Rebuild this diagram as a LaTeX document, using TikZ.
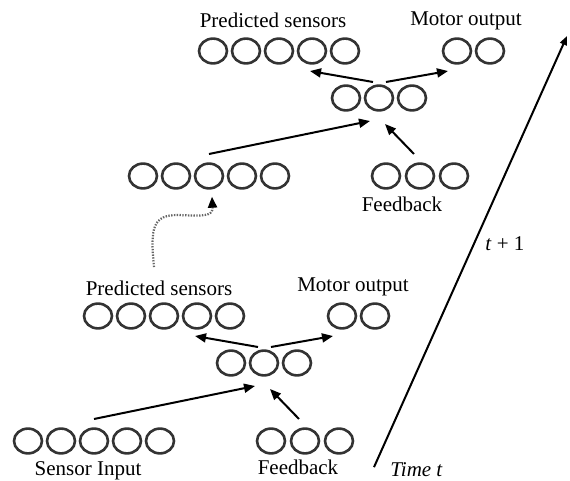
\documentclass[tikz,border=0pt]{standalone}
\usepackage{fontspec}
\setmainfont{Liberation Serif}
\usetikzlibrary{arrows.meta,shapes.geometric}

\begin{document}
\begin{tikzpicture}[x=0.5pt,y=-0.5pt,
		unit/.style={ellipse,draw=black!80,line width=1.3pt,minimum width=14pt,minimum height=12.4pt,inner sep=0pt},
		lab/.style={anchor=base,inner sep=0pt,font=\fontsize{10.5}{12.6}\selectfont},
		link/.style={-{Triangle[length=5.5pt,width=4.5pt]},line width=1pt},
		recall/.style={black!60,line width=1.1pt,dash pattern=on 0.7pt off 0.7pt,-{Triangle[length=5.5pt,width=4.5pt,black]}},
		clock/.style={-{Triangle[length=4.5pt,width=3.5pt]},line width=1pt}]
	\useasboundingbox (0,0) rectangle (570,481);
	% the same network twice: at time t (a) and at t+1 (b)
	\foreach \g/\dx/\dy in {a/0/0,b/115/-265}{
		\begin{scope}[shift={(\dx,\dy)}]
			\foreach \i in {1,...,5}{
				\node[unit] (\g-s\i) at ({28+33*(\i-1)},441) {};
				\node[unit] (\g-p\i) at ({98+33*(\i-1)},316) {};
			}
			\foreach \i in {1,2,3}{
				\node[unit] (\g-f\i) at ({271+34*(\i-1)},441) {};
				\node[unit] (\g-h\i) at ({231+33*(\i-1)},363) {};
			}
			\foreach \i in {1,2}
				\node[unit] (\g-m\i) at ({342+33*(\i-1)},316) {};
		\end{scope}
	}
	% inputs into the middle layer, and out again
	\foreach \g in {a,b}{
		\draw[link] ([shift={(0,-22)}]\g-s3.center) -- ([shift={(-9,23)}]\g-h2.center);
		\draw[link] ([shift={(-6,-22)}]\g-f2.center) -- ([shift={(6,26)}]\g-h2.center);
		\draw[link] ([shift={(-6,-16)}]\g-h2.center) -- ([shift={(-2,20)}]\g-p4.center);
		\draw[link] ([shift={(7,-16)}]\g-h2.center) -- ([shift={(-9,20)}]\g-m1.center);
	}
	% labels
	\node[lab] (a-lsin) at (88,476) {Sensor Input};
	\node[lab] (a-lfb) at (298,475) {Feedback};
	\node[lab] (a-lps) at (159,296) {Predicted sensors};
	\node[lab] (a-lmo) at (353,292) {Motor output};
	\node[lab] (b-lfb) at (402,212) {Feedback};
	\node[lab] (b-lps) at (273,28) {Predicted sensors};
	\node[lab] (b-lmo) at (466,26) {Motor output};
	% the prediction is fed back in as the next sensor input
	\draw[recall] ([shift={(-5,-14)}]a-lps.north) .. controls +(-4,-40) and +(-25,0) .. (178,215)
		.. controls +(25,1) and +(1,20) .. ([shift={(3,7)}]b-s3.south);
	% time axis
	\node[lab,anchor=base west,font=\fontsize{10.5}{12.6}\selectfont\itshape] (tnow) at (390,477) {Time t};
	\node[lab,anchor=base west] (tnext) at (485,251) {\textit{t} + 1};
	\coordinate (ttop) at (567,36);
	\draw[clock] ([shift={(-16,-3)}]tnow.west) -- (ttop);
\end{tikzpicture}
\end{document}
